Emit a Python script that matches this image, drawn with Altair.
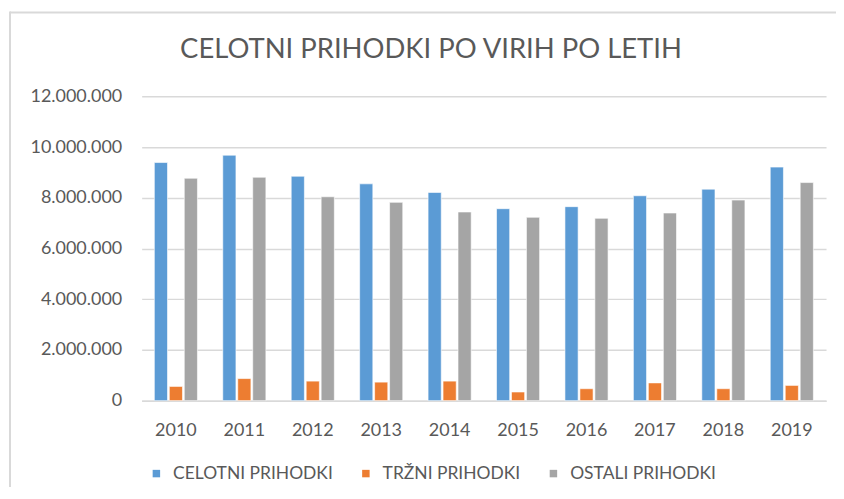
import altair as alt
import pandas as pd

years = ["2010", "2011", "2012", "2013", "2014", "2015", "2016", "2017", "2018", "2019"]
series = ["CELOTNI PRIHODKI", "TRŽNI PRIHODKI", "OSTALI PRIHODKI"]
celotni = [9390000, 9680000, 8850000, 8550000, 8210000, 7570000, 7650000, 8080000, 8340000, 9210000]
trzni = [560000, 870000, 770000, 730000, 770000, 340000, 470000, 700000, 470000, 600000]
ostali = [8770000, 8810000, 8040000, 7820000, 7440000, 7230000, 7190000, 7400000, 7910000, 8600000]
colors = ["#5B9BD5", "#ED7D31", "#A5A5A5"]
y_ticks = [0, 2000000, 4000000, 6000000, 8000000, 10000000, 12000000]
title_text = "CELOTNI PRIHODKI PO VIRIH PO LETIH"

rows = []
for i, y in enumerate(years):
    for s, vals in zip(series, [celotni, trzni, ostali]):
        rows.append({"leto": y, "vir": s, "vrednost": vals[i]})
df = pd.DataFrame(rows)

FONT = "Lato"
TXT = "#595959"

bars = alt.Chart(df).mark_bar(stroke="white", strokeWidth=0.6).encode(
    x=alt.X("leto:N", sort=years, title=None,
            scale=alt.Scale(paddingInner=0.37, paddingOuter=0.185),
            axis=alt.Axis(labelAngle=0, ticks=False, domain=True, domainColor="#d9d9d9",
                          domainWidth=1.5, labelFontSize=18, labelColor=TXT, labelFont=FONT,
                          labelPadding=21, grid=False)),
    xOffset=alt.XOffset("vir:N", sort=series, scale=alt.Scale(paddingInner=0.12)),
    y=alt.Y("vrednost:Q", title=None,
            scale=alt.Scale(domain=[0, 12000000], nice=False),
            axis=alt.Axis(values=y_ticks, format=",d", ticks=False, domain=False,
                          gridColor="#d9d9d9", gridWidth=1.5, labelFontSize=18,
                          labelColor=TXT, labelFont=FONT, labelPadding=20)),
    color=alt.Color("vir:N", sort=series,
                    scale=alt.Scale(domain=series, range=colors),
                    legend=alt.Legend(orient="none", legendX=6, legendY=369,
                                      direction="horizontal", title=None, padding=0,
                                      symbolType="square", symbolSize=56,
                                      symbolStrokeWidth=0, labelFontSize=17.5,
                                      labelLimit=400,
                                      labelColor=TXT, labelFont=FONT,
                                      columnPadding=24, labelOffset=8)),
)

frame = pd.DataFrame({"a": [0]})
border_top = alt.Chart(frame).mark_rule(color="#d9d9d9", strokeWidth=2).encode(
    x=alt.value(-132), x2=alt.value(740), y=alt.value(-84))
border_left = alt.Chart(frame).mark_rule(color="#d9d9d9", strokeWidth=2).encode(
    x=alt.value(-132), y=alt.value(-85), y2=alt.value(440))

title = alt.Chart(pd.DataFrame({"t": [title_text]})).mark_text(
    font=FONT, fontSize=27.5, color=TXT, align="center", baseline="middle"
).encode(text="t:N", x=alt.value(290), y=alt.value(-46))

chart = alt.layer(border_top, border_left, bars, title).properties(
    width=686, height=305,
    autosize=alt.AutoSizeParams(type="none"),
    padding={"left": 134, "top": 88, "right": 10, "bottom": 86},
).configure(
    locale={"number": {"decimal": ",", "thousands": ".", "grouping": [3], "currency": ["", " €"]}},
    view={"stroke": None},
)

chart.save("out.html", embed_options={"renderer": "svg", "actions": False})
